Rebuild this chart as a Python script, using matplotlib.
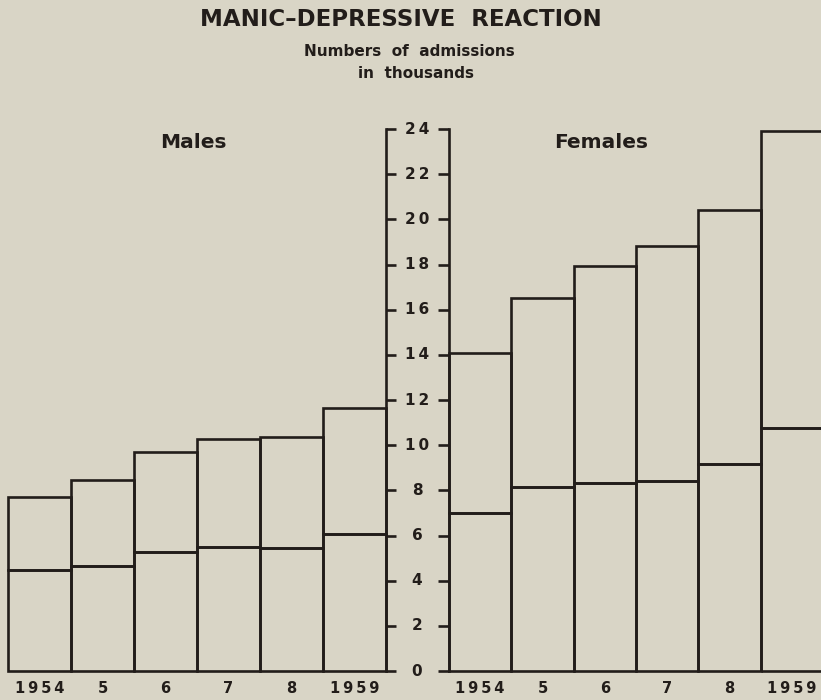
import matplotlib.pyplot as plt
from matplotlib.transforms import blended_transform_factory

years = ['1954', '5', '6', '7', '8', '1959']

# admissions in thousands: lower part and whole bar
males_lower = [4.47, 4.65, 5.26, 5.49, 5.45, 6.07]
males_total = [7.71, 8.46, 9.69, 10.27, 10.36, 11.65]
females_lower = [7.01, 8.15, 8.31, 8.41, 9.17, 10.76]
females_total = [14.08, 16.52, 17.94, 18.82, 20.42, 23.93]

y_ticks = list(range(0, 25, 2))

BG = '#d9d5c6'
INK = '#221d1a'
FONT = 'DejaVu Sans'
LW = 1.9

fig = plt.figure(figsize=(8.21, 7.00), dpi=100, facecolor=BG)

y0 = (700 - 671) / 700
h = 542 / 700
ax_m = fig.add_axes([8 / 821, y0, 378 / 821, h])
ax_f = fig.add_axes([449 / 821, y0, 374 / 821, h])


def draw_bars(ax, lower, total):
    x = list(range(len(years)))
    upper = [t - l for t, l in zip(total, lower)]
    ax.bar(x, lower, width=1, fill=False, edgecolor=INK, linewidth=LW, clip_on=False)
    ax.bar(x, upper, bottom=lower, width=1, fill=False, edgecolor=INK, linewidth=LW,
           clip_on=False)
    ax.set_xlim(-0.5, 5.5)
    ax.set_ylim(0, 24)
    ax.set_facecolor('none')
    for s in ax.spines.values():
        s.set_visible(False)
    ax.set_xticks(x)
    ax.set_xticklabels(['\u2009'.join(y) for y in years], family=FONT, fontsize=10.5,
                       fontweight='bold', color=INK)
    ax.tick_params(axis='x', length=0, pad=7)
    ax.set_yticks(y_ticks)


draw_bars(ax_m, males_lower, males_total)
draw_bars(ax_f, females_lower, females_total)

ax_m.spines['right'].set_visible(True)
ax_m.spines['right'].set_linewidth(LW)
ax_m.spines['right'].set_color(INK)
ax_m.yaxis.tick_right()
ax_m.tick_params(axis='y', direction='out', length=7.5, width=LW, color=INK,
                 labelright=False, labelleft=False)

ax_f.spines['left'].set_visible(True)
ax_f.spines['left'].set_linewidth(LW)
ax_f.spines['left'].set_color(INK)
ax_f.tick_params(axis='y', direction='out', length=8, width=LW, color=INK,
                 labelleft=False)

# scale numbers between the two axis lines
tr = blended_transform_factory(fig.transFigure, ax_m.transData)
for v in y_ticks:
    fig.text(417 / 821, v, '\u2009'.join(str(v)), transform=tr, ha='center', va='center',
             family=FONT, fontsize=11, fontweight='bold', color=INK)

fig.text(193 / 821, 1 - 142 / 700, 'Males', ha='center', va='center',
         family=FONT, fontsize=14.5, fontweight='bold', color=INK)
fig.text(601 / 821, 1 - 142 / 700, 'Females', ha='center', va='center',
         family=FONT, fontsize=14.5, fontweight='bold', color=INK)

fig.text(401 / 821, 1 - 20 / 700, 'MANIC\u2013DEPRESSIVE  REACTION', ha='center', va='center',
         family=FONT, fontsize=16.5, fontweight='bold', color=INK)
fig.text(409 / 821, 1 - 52 / 700, 'Numbers  of  admissions', ha='center', va='center',
         family=FONT, fontsize=11, fontweight='bold', color=INK)
fig.text(416 / 821, 1 - 73 / 700, 'in  thousands', ha='center', va='center',
         family=FONT, fontsize=11, fontweight='bold', color=INK)

fig.savefig('out.png', dpi=100, facecolor=BG)
